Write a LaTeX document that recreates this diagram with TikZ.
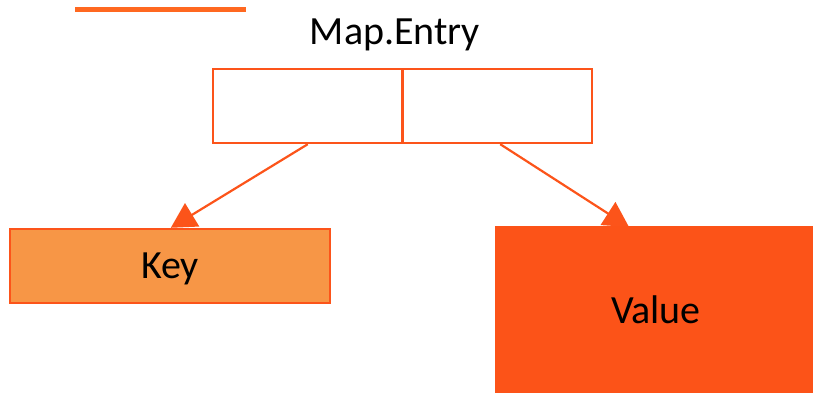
\documentclass[tikz,border=0pt]{standalone}
\usepackage{fontspec}
\setmainfont{Carlito}
\usetikzlibrary{arrows.meta,calc,backgrounds}
\definecolor{edge}{RGB}{252,84,26}
\definecolor{valfill}{RGB}{252,83,24}
\definecolor{keyfill}{RGB}{247,150,70}
\definecolor{bar}{RGB}{255,104,32}
\tikzset{
  x=1pt,y=-1pt,
  lbl/.style={font=\fontsize{40}{48}\selectfont, text=black},
  cell/.style={draw=edge, line width=2.4pt, fill=white, minimum width=189.5pt, minimum height=74pt, inner sep=0pt},
  box/.style={draw=edge, line width=2.4pt, inner sep=0pt, text height=26pt, text depth=2pt, lbl},
  conn/.style={draw=edge, line width=2.2pt, -{Triangle[length=25pt,width=27pt]}},
}
\begin{document}
\begin{tikzpicture}
\useasboundingbox (0,0) rectangle (813,392);
\coordinate (barL) at (75,9);
\coordinate (barR) at (246,9);
\draw[bar, line width=5pt] (barL) -- (barR);
\node[lbl, anchor=base] (title) at (395,44) {Map.Entry};
\node[cell] (kc) at (307.75,106) {};
\node[cell] (vc) at (497.25,106) {};
\node[box, fill=keyfill, minimum width=320pt, minimum height=74pt] (key) at (170,266) {Key};
\node[box, fill=valfill, draw=valfill, line width=4pt, minimum width=318pt, minimum height=166pt] (val) at (656,311) {Value};
\begin{pgfonlayer}{background}
\draw[conn] (kc.south) -- ($(key.north west)+(162,0)$);
\draw[conn] ($(vc.south)+(3,0)$) -- ($(val.north west)+(134,1)$);
\end{pgfonlayer}
\end{tikzpicture}
\end{document}
